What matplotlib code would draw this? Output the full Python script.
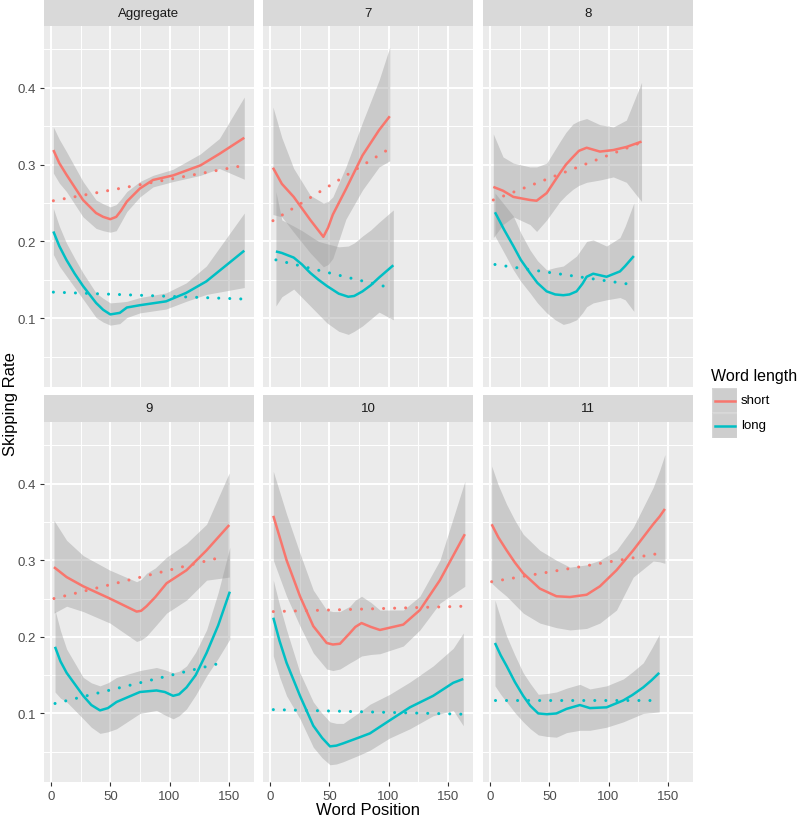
import matplotlib
matplotlib.use('Agg')
import matplotlib.pyplot as plt
import numpy as np
from matplotlib.patches import Rectangle

# columns: word position, loess fit, lower 95%, upper 95%
AGG_SHORT = [[2, 0.319, 0.289, 0.349], [7, 0.302, 0.276, 0.333], [13, 0.287, 0.265, 0.317],
             [27, 0.254, 0.232, 0.278], [38, 0.237, 0.217, 0.254], [44, 0.232, 0.214, 0.249],
             [50, 0.229, 0.212, 0.245], [55, 0.232, 0.214, 0.248], [59, 0.240, 0.225, 0.255],
             [64, 0.252, 0.239, 0.265], [75, 0.269, 0.258, 0.278], [86, 0.280, 0.271, 0.286],
             [103, 0.286, 0.278, 0.294], [126, 0.299, 0.286, 0.314], [142, 0.314, 0.295, 0.334],
             [163, 0.335, 0.281, 0.388]]
AGG_LONG = [[2, 0.213, 0.183, 0.243], [7, 0.194, 0.168, 0.220], [13, 0.176, 0.155, 0.198],
            [20, 0.158, 0.140, 0.178], [27, 0.142, 0.125, 0.159], [38, 0.120, 0.101, 0.133],
            [44, 0.111, 0.095, 0.126], [50, 0.105, 0.091, 0.120], [58, 0.107, 0.093, 0.121],
            [64, 0.114, 0.101, 0.122], [75, 0.117, 0.107, 0.127], [97, 0.122, 0.112, 0.133],
            [114, 0.133, 0.122, 0.146], [131, 0.148, 0.131, 0.168], [163, 0.188, 0.140, 0.237]]

P7_SHORT = [[2.5, 0.296, 0.235, 0.375], [10, 0.275, 0.232, 0.335], [20, 0.258, 0.212, 0.295],
            [34, 0.228, 0.185, 0.260], [45, 0.206, 0.167, 0.250], [49, 0.218, 0.170, 0.252],
            [53, 0.235, 0.178, 0.258], [64, 0.268, 0.229, 0.297], [78, 0.312, 0.267, 0.355],
            [92, 0.345, 0.297, 0.410], [101, 0.363, 0.305, 0.453]]
P7_LONG = [[5, 0.187, 0.116, 0.265], [10, 0.185, 0.128, 0.228], [20, 0.179, 0.138, 0.220],
           [27, 0.170, 0.127, 0.214], [34, 0.159, 0.116, 0.207], [41, 0.150, 0.105, 0.200],
           [48, 0.142, 0.094, 0.197], [58, 0.132, 0.083, 0.193], [66, 0.128, 0.079, 0.194],
           [71, 0.129, 0.083, 0.198], [78, 0.135, 0.090, 0.207], [85, 0.143, 0.099, 0.215],
           [92, 0.153, 0.108, 0.225], [104, 0.169, 0.098, 0.241]]

P8_SHORT = [[2.8, 0.271, 0.205, 0.340], [11, 0.266, 0.222, 0.310], [19.7, 0.258, 0.232, 0.302],
            [33.7, 0.254, 0.222, 0.297], [39.3, 0.253, 0.213, 0.297], [47.8, 0.263, 0.228, 0.302],
            [59, 0.289, 0.252, 0.330], [64, 0.300, 0.260, 0.342], [70, 0.310, 0.268, 0.353],
            [75, 0.318, 0.273, 0.357], [81.5, 0.322, 0.277, 0.360], [92.7, 0.317, 0.280, 0.352],
            [104, 0.319, 0.284, 0.349], [115, 0.323, 0.277, 0.358], [127.8, 0.330, 0.252, 0.407]]
P8_LONG = [[4.2, 0.238, 0.207, 0.263], [12, 0.215, 0.185, 0.248], [19.7, 0.194, 0.163, 0.233],
           [26, 0.176, 0.148, 0.211], [33.7, 0.159, 0.133, 0.189], [40, 0.146, 0.120, 0.175],
           [47.8, 0.135, 0.107, 0.163], [55, 0.131, 0.098, 0.166], [61.8, 0.130, 0.092, 0.168],
           [67, 0.131, 0.094, 0.174], [73, 0.135, 0.098, 0.181], [78, 0.145, 0.107, 0.192],
           [81.5, 0.154, 0.115, 0.200], [87, 0.158, 0.120, 0.202], [98.3, 0.154, 0.124, 0.194],
           [109.6, 0.161, 0.127, 0.205], [114, 0.168, 0.124, 0.220], [121.3, 0.181, 0.109, 0.250]]

P9_SHORT = [[2.5, 0.291, 0.231, 0.352], [13.2, 0.278, 0.240, 0.326], [27.2, 0.266, 0.233, 0.306],
            [49.7, 0.250, 0.218, 0.287], [72.2, 0.233, 0.194, 0.272], [76, 0.234, 0.196, 0.275],
            [80.6, 0.240, 0.201, 0.283], [88, 0.252, 0.214, 0.290], [97.5, 0.270, 0.231, 0.304],
            [114.3, 0.287, 0.248, 0.322], [131.2, 0.313, 0.274, 0.347], [150.3, 0.346, 0.278, 0.414]]
P9_LONG = [[3.4, 0.187, 0.128, 0.235], [8, 0.168, 0.120, 0.208], [13.2, 0.153, 0.115, 0.184],
           [27.2, 0.123, 0.093, 0.147], [34, 0.111, 0.082, 0.140], [41.3, 0.104, 0.074, 0.136],
           [48, 0.107, 0.076, 0.140], [55.3, 0.115, 0.080, 0.147], [75, 0.128, 0.100, 0.156],
           [89, 0.130, 0.104, 0.160], [96, 0.128, 0.098, 0.157], [103, 0.123, 0.093, 0.153],
           [108, 0.125, 0.097, 0.155], [114.3, 0.134, 0.106, 0.162], [122, 0.150, 0.124, 0.180],
           [131.2, 0.179, 0.149, 0.209], [141, 0.215, 0.172, 0.258], [150.8, 0.259, 0.197, 0.317]]

P10_SHORT = [[2.8, 0.358, 0.300, 0.416], [14, 0.300, 0.253, 0.360], [25.3, 0.253, 0.214, 0.309],
             [36.5, 0.214, 0.179, 0.261], [47.8, 0.192, 0.158, 0.235], [53, 0.190, 0.156, 0.233],
             [59, 0.191, 0.158, 0.233], [67.4, 0.205, 0.166, 0.240], [72, 0.213, 0.170, 0.248],
             [77.2, 0.218, 0.175, 0.253], [85, 0.213, 0.177, 0.245], [92.7, 0.209, 0.178, 0.235],
             [112.4, 0.216, 0.188, 0.235], [126.4, 0.235, 0.209, 0.253], [143.3, 0.274, 0.244, 0.300],
             [164.3, 0.334, 0.266, 0.403]]
P10_LONG = [[2.8, 0.225, 0.175, 0.274], [8, 0.195, 0.148, 0.242], [14, 0.166, 0.123, 0.209],
            [25.3, 0.123, 0.093, 0.153], [36.5, 0.084, 0.056, 0.115], [44, 0.068, 0.042, 0.100],
            [50.6, 0.057, 0.033, 0.089], [56, 0.058, 0.034, 0.087], [61.8, 0.061, 0.037, 0.087],
            [75.8, 0.069, 0.046, 0.102], [84.3, 0.074, 0.052, 0.112], [101, 0.091, 0.068, 0.125],
            [118, 0.108, 0.080, 0.141], [137.6, 0.123, 0.097, 0.162], [154.5, 0.140, 0.104, 0.185],
            [163, 0.145, 0.084, 0.205]]

P11_SHORT = [[1.4, 0.347, 0.270, 0.423], [7, 0.330, 0.262, 0.398], [14, 0.313, 0.253, 0.373],
             [21, 0.297, 0.242, 0.352], [28, 0.283, 0.231, 0.334], [42, 0.263, 0.218, 0.313],
             [56, 0.253, 0.212, 0.300], [67.4, 0.252, 0.209, 0.291], [81.5, 0.255, 0.211, 0.294],
             [92.7, 0.266, 0.218, 0.300], [106.7, 0.287, 0.235, 0.313], [120.8, 0.313, 0.278, 0.343],
             [137.6, 0.347, 0.299, 0.395], [143, 0.357, 0.298, 0.417], [147.5, 0.367, 0.296, 0.438]]
P11_LONG = [[4.2, 0.192, 0.136, 0.248], [9, 0.176, 0.125, 0.224], [14, 0.162, 0.115, 0.201],
            [21, 0.141, 0.101, 0.176], [28, 0.123, 0.089, 0.153], [34, 0.110, 0.080, 0.139],
            [40.7, 0.100, 0.072, 0.125], [48, 0.099, 0.070, 0.126], [56, 0.100, 0.069, 0.128],
            [64.6, 0.106, 0.075, 0.133], [75.8, 0.111, 0.078, 0.138], [84.3, 0.107, 0.078, 0.132],
            [98.3, 0.108, 0.082, 0.136], [112.4, 0.117, 0.089, 0.145], [120, 0.124, 0.094, 0.154],
            [129.2, 0.134, 0.100, 0.166], [136, 0.143, 0.101, 0.184], [142.7, 0.153, 0.102, 0.203]]

# linear fits (dotted): [[x start, y start], [x end, y end]]
AGG_SHORT_LM = [[2, 0.253], [163, 0.299]]
AGG_LONG_LM = [[2, 0.134], [163, 0.125]]
P7_SHORT_LM = [[2.5, 0.227], [101, 0.321]]
P7_LONG_LM = [[5, 0.176], [98, 0.141]]
P8_SHORT_LM = [[2.8, 0.254], [127.8, 0.329]]
P8_LONG_LM = [[4.2, 0.170], [119, 0.144]]
P9_SHORT_LM = [[2.5, 0.250], [143.8, 0.304]]
P9_LONG_LM = [[3.4, 0.113], [143.8, 0.166]]
P10_SHORT_LM = [[2.8, 0.233], [164.3, 0.240]]
P10_LONG_LM = [[2.8, 0.105], [163, 0.099]]
P11_SHORT_LM = [[1.4, 0.272], [143, 0.309]]
P11_LONG_LM = [[4.2, 0.118], [137, 0.118]]

PANEL_TITLES = ["Aggregate", "7", "8", "9", "10", "11"]
GROUPS = ["short", "long"]
X_TICKS = [0, 50, 100, 150]
Y_TICKS = [0.1, 0.2, 0.3, 0.4]

COLORS = {"short": "#F8766D", "long": "#00BFC4"}
PANEL_BG = "#EBEBEB"
STRIP_BG = "#D9D9D9"
FONT = "Liberation Sans"

panels = [
    (AGG_SHORT, AGG_LONG, AGG_SHORT_LM, AGG_LONG_LM),
    (P7_SHORT, P7_LONG, P7_SHORT_LM, P7_LONG_LM),
    (P8_SHORT, P8_LONG, P8_SHORT_LM, P8_LONG_LM),
    (P9_SHORT, P9_LONG, P9_SHORT_LM, P9_LONG_LM),
    (P10_SHORT, P10_LONG, P10_SHORT_LM, P10_LONG_LM),
    (P11_SHORT, P11_LONG, P11_SHORT_LM, P11_LONG_LM),
]

plt.rcParams['font.family'] = [FONT, 'DejaVu Sans']

W, H = 800, 820
fig = plt.figure(figsize=(W / 100, H / 100), dpi=100)


def add_px_axes(left, top, right, bottom):
    return fig.add_axes([left / W, 1 - bottom / H, (right - left) / W, (bottom - top) / H])


COLS = [(44, 254), (263, 473), (483, 693)]
ROWS = [(27, 388), (423, 783)]
STRIPS = [(1, 27), (396, 423)]

for i, (short, long_, short_lm, long_lm) in enumerate(panels):
    r, c = divmod(i, 3)
    ax = add_px_axes(COLS[c][0], ROWS[r][0], COLS[c][1], ROWS[r][1])
    ax.set_facecolor(PANEL_BG)
    for s in ax.spines.values():
        s.set_visible(False)
    ax.set_xlim(-5.9, 171.2)
    ax.set_ylim(0.0105, 0.4805)
    ax.set_xticks(X_TICKS)
    ax.set_xticks([25, 75, 125], minor=True)
    ax.set_yticks(Y_TICKS)
    ax.set_yticks([0.05, 0.15, 0.25, 0.35, 0.45], minor=True)
    ax.grid(True, which="major", color="white", lw=1.4)
    ax.grid(True, which="minor", color="white", lw=0.7)
    ax.set_axisbelow(True)
    ax.tick_params(which="minor", length=0)
    ax.tick_params(which="major", length=3, width=0.8, color="#333333",
                   labelsize=9.5, labelcolor="#4D4D4D", pad=2.5)
    if c == 0:
        ax.set_yticklabels([f"{v:.1f}" for v in Y_TICKS])
    else:
        ax.tick_params(axis="y", length=0, labelleft=False)
    if r == 1:
        ax.set_xticklabels([str(v) for v in X_TICKS])
    else:
        ax.tick_params(axis="x", length=0, labelbottom=False)

    # loess ribbons + lines, group by group like geom_smooth
    for g, data in zip(GROUPS, [short, long_]):
        d = np.array(data)
        ax.fill_between(d[:, 0], d[:, 2], d[:, 3], color="#999999", alpha=0.4, lw=0)
        ax.plot(d[:, 0], d[:, 1], color=COLORS[g], lw=1.8, solid_capstyle="butt",
                solid_joinstyle="round")
    for g, lm in zip(GROUPS, [short_lm, long_lm]):
        lm = np.array(lm)
        ax.plot(lm[:, 0], lm[:, 1], color=COLORS[g], lw=2.2,
                linestyle=(0, (0.01, 3.6)), dash_capstyle="round")

    sax = add_px_axes(COLS[c][0], STRIPS[r][0], COLS[c][1], STRIPS[r][1])
    sax.set_facecolor(STRIP_BG)
    sax.set_xticks([])
    sax.set_yticks([])
    for s in sax.spines.values():
        s.set_visible(False)
    sax.text(0.5, 0.5, PANEL_TITLES[i], ha="center", va="center",
             fontsize=9.5, color="#1A1A1A", transform=sax.transAxes)

# axis titles
fig.text(368 / W, 1 - 811 / H, "Word Position", ha="center", va="center", fontsize=12)
fig.text(11 / W, 1 - 404 / H, "Skipping Rate", ha="center", va="center",
         rotation=90, fontsize=12)

# legend
fig.text(711 / W, 1 - 377 / H, "Word length", ha="left", va="center", fontsize=11.5)
lax = add_px_axes(712, 389, 737, 439)
lax.set_xlim(0, 1)
lax.set_ylim(0, 2)
lax.axis("off")
for k, g in enumerate(GROUPS):
    y0 = 1 - k
    lax.add_patch(Rectangle((0, y0), 1, 1, facecolor="#F2F2F2", edgecolor="white", lw=1))
    lax.add_patch(Rectangle((0, y0), 1, 1, facecolor="#999999", alpha=0.4, lw=0))
    lax.plot([0.1, 0.9], [y0 + 0.5, y0 + 0.5], color=COLORS[g], lw=1.8)
    fig.text(741 / W, 1 - (401 + 25 * k) / H, g, ha="left", va="center", fontsize=9.5)

fig.savefig("out.png", dpi=100)
